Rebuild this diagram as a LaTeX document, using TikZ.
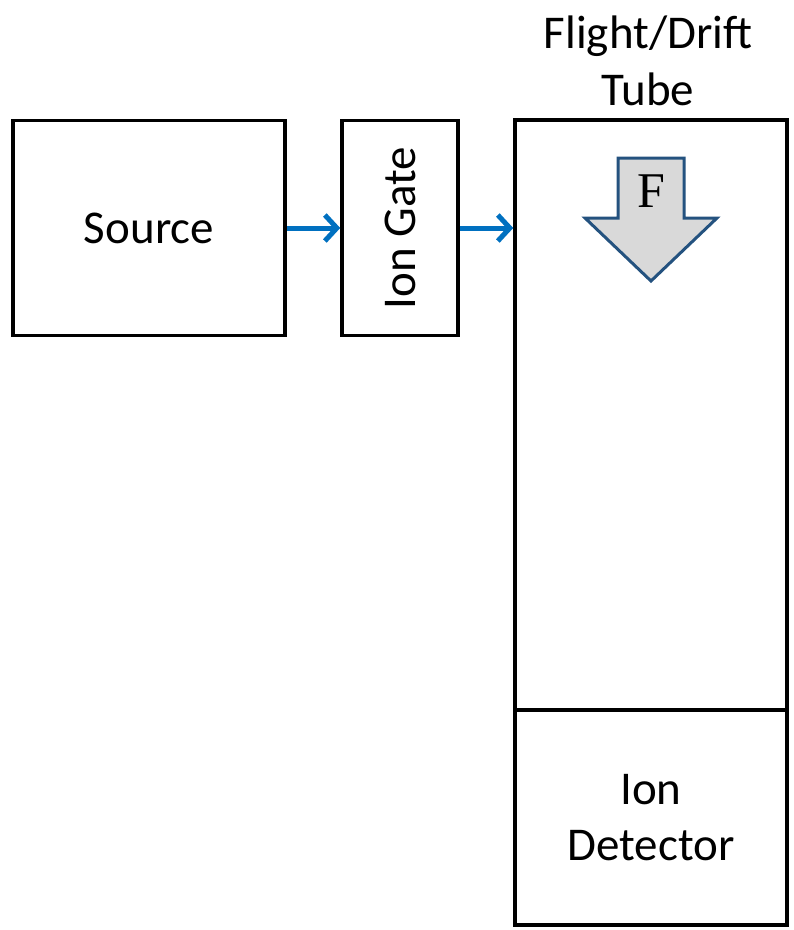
\documentclass[tikz,border=0pt]{standalone}
\usepackage{fontspec}
\setmainfont{Carlito}
\newfontfamily\serifF{Liberation Serif}
\usetikzlibrary{arrows.meta}
\definecolor{flowblue}{HTML}{0070C0}
\definecolor{forceedge}{HTML}{24527F}
\definecolor{forcefill}{HTML}{D9D9D9}
\begin{document}
\begin{tikzpicture}[x=1pt,y=-1pt,
  box/.style={draw=black, line width=3.5pt, rectangle, inner sep=0pt,
    font=\fontsize{47}{57}\selectfont, align=center},
  flow/.style={draw=flowblue, line width=5pt,
    -{Straight Barb[length=12pt,width=26pt]}},
  lbl/.style={font=\fontsize{47}{57}\selectfont, align=center, inner sep=0pt}]
  \useasboundingbox (0,0) rectangle (794,930);
  % stages of the spectrometer
  \node[box, minimum width=272pt, minimum height=215pt] (src) at (149,228) {Source};
  \node[box, minimum width=116pt, minimum height=215pt] (gate) at (400,228)
    {\rotatebox{90}{Ion Gate}};
  \node[box, minimum width=272pt, minimum height=590pt] (tube) at (651,415) {};
  \node[box, minimum width=272pt, minimum height=215pt] (det) at (651,817.5)
    {Ion\\[-1pt]Detector};
  \node[lbl] (tubelbl) at (648,61) {Flight/Drift\\Tube};
  % ion flow
  \draw[flow] (src.east) -- (gate.west);
  \draw[flow] (gate.east) -- (tube.west |- gate.east);
  % field direction arrow
  \draw[draw=forceedge, fill=forcefill, line width=3pt, line join=miter]
    (618,158) -- (684,158) -- (684,218) -- (717,218) -- (651,281)
    -- (585,218) -- (618,218) -- cycle;
  \node[inner sep=0pt, font=\serifF\fontsize{50}{50}\selectfont] (force) at (651,191) {F};
\end{tikzpicture}
\end{document}
